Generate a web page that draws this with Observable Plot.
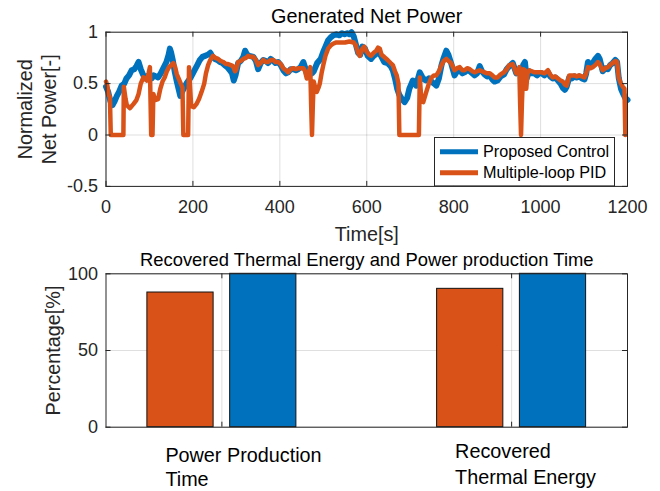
<!DOCTYPE html>
<html>
<head>
<meta charset="utf-8">
<script src="https://cdn.jsdelivr.net/npm/d3@7"></script>
<script src="https://cdn.jsdelivr.net/npm/@observablehq/plot@0.6"></script>
<style>
  body { margin: 0; background: #fff; }
  #wrap { position: relative; width: 660px; height: 491px; overflow: hidden; background: #fff;
          font-family: "Liberation Sans", Arial, Helvetica, sans-serif; }
  #wrap > svg { position: absolute; left: 0; }
</style>
</head>
<body>
<div id="wrap"></div>
<script>
// ---------- Data ----------
const timeProposed = [0,5,10,15,20,25,30,36,42,47,53,59,65,70,75,80,85,90,95,100,105,110,115,120,126,132,139,144,147,150,154,158,163,167,171,175,180,185,190,195,200,205,210,216,222,228,234,240,245,250,256,262,268,273,279,285,290,294,298,304,310,316,320,325,330,339,345,350,356,362,368,373,379,385,390,396,402,408,414,419,425,431,437,442,448,454,458,462,466,470,474,478,482,486,490,494,500,505,511,517,523,530,537,543,549,555,560,565,570,575,580,585,590,596,602,610,616,622,629,634,640,648,655,660,665,670,675,681,687,693,698,703,706,710,714,718,722,727,732,737,743,749,755,760,766,772,777,783,788,794,802,808,814,820,825,831,837,843,848,854,860,865,871,877,883,889,894,901,908,916,922,928,936,944,950,955,960,964,968,974,980,986,992,997,1003,1009,1017,1022,1028,1034,1040,1046,1051,1056,1060,1066,1072,1078,1083,1089,1095,1101,1105,1109,1115,1120,1126,1132,1136,1143,1149,1155,1160,1166,1172,1176,1180,1185,1190,1195,1200];
const powerProposed = [0.47,0.42,0.33,0.29,0.33,0.38,0.42,0.48,0.5,0.55,0.58,0.63,0.64,0.67,0.71,0.64,0.59,0.55,0.57,0.59,0.55,0.58,0.57,0.56,0.6,0.65,0.71,0.78,0.84,0.8,0.72,0.62,0.52,0.45,0.38,0.42,0.46,0.5,0.53,0.56,0.6,0.64,0.68,0.73,0.76,0.77,0.78,0.8,0.76,0.74,0.73,0.71,0.7,0.68,0.66,0.63,0.6,0.53,0.58,0.7,0.72,0.76,0.82,0.78,0.77,0.76,0.72,0.64,0.7,0.73,0.72,0.7,0.74,0.72,0.7,0.71,0.68,0.63,0.6,0.61,0.64,0.64,0.63,0.64,0.66,0.71,0.66,0.6,0.57,0.62,0.6,0.62,0.66,0.7,0.72,0.74,0.81,0.86,0.92,0.95,0.97,0.98,0.97,0.99,0.98,0.99,0.98,1.0,0.96,0.88,0.8,0.78,0.86,0.84,0.77,0.74,0.77,0.79,0.8,0.76,0.71,0.7,0.67,0.63,0.55,0.45,0.39,0.35,0.32,0.36,0.45,0.5,0.53,0.51,0.48,0.55,0.61,0.57,0.54,0.53,0.55,0.52,0.5,0.48,0.55,0.68,0.75,0.82,0.78,0.7,0.58,0.62,0.63,0.6,0.61,0.63,0.62,0.6,0.58,0.6,0.67,0.62,0.59,0.57,0.58,0.54,0.52,0.53,0.57,0.59,0.64,0.67,0.7,0.6,0.63,0.6,0.68,0.71,0.55,0.62,0.6,0.6,0.58,0.6,0.6,0.58,0.61,0.57,0.55,0.56,0.53,0.5,0.46,0.44,0.47,0.56,0.55,0.57,0.56,0.57,0.55,0.54,0.6,0.71,0.68,0.7,0.74,0.77,0.74,0.62,0.65,0.64,0.68,0.7,0.73,0.71,0.55,0.45,0.4,0.36,0.34];

const timePID = [0,3,6,9,11,40,41,45,48,55,63,70,75,80,86,90,94,98,101,104,107,109,113,120,125,130,135,140,145,150,155,159,163,168,172,176,178,189,191,193,196,202,208,214,220,226,230,235,240,246,252,258,264,270,276,281,287,292,297,300,304,310,316,322,327,333,339,345,350,356,362,368,373,379,385,390,396,402,408,414,419,425,431,437,442,448,454,458,462,466,470,472,474,476,478,482,485,489,492,496,500,505,511,517,523,530,540,550,560,570,575,580,584,590,594,600,606,610,616,622,626,630,634,640,648,655,660,665,669,673,675,720,722,726,730,737,743,749,755,760,766,772,777,783,788,794,802,808,814,820,825,831,837,843,848,854,860,865,871,877,883,889,894,901,908,916,922,928,936,944,948,951,953,955,957,960,964,967,970,974,980,986,992,997,1003,1009,1017,1022,1028,1034,1040,1046,1051,1056,1060,1066,1072,1078,1083,1089,1095,1101,1105,1109,1115,1120,1126,1132,1136,1143,1149,1155,1160,1166,1172,1176,1180,1185,1189,1193,1195];
const powerPID = [0.52,0.48,0.39,0.37,0,0,0.47,0.35,0.29,0.26,0.3,0.34,0.4,0.5,0.56,0.55,0.53,0.6,0.66,0,0,0.4,0.34,0.35,0.45,0.52,0.56,0.62,0.66,0.68,0.7,0.66,0.59,0.54,0.5,0.46,0,0,0.66,0.5,0.28,0.27,0.3,0.35,0.42,0.5,0.6,0.68,0.73,0.77,0.75,0.74,0.72,0.71,0.69,0.69,0.68,0.67,0.62,0.64,0.71,0.72,0.74,0.75,0.77,0.76,0.76,0.73,0.68,0.7,0.73,0.71,0.71,0.73,0.73,0.71,0.71,0.69,0.65,0.63,0.61,0.64,0.65,0.64,0.65,0.65,0.65,0.62,0.55,0.6,0.66,0.3,0,0.3,0.52,0.45,0.42,0.46,0.5,0.6,0.68,0.77,0.84,0.87,0.89,0.9,0.9,0.9,0.91,0.9,0.87,0.8,0.77,0.84,0.86,0.81,0.78,0.77,0.8,0.82,0.85,0.84,0.78,0.76,0.73,0.7,0.68,0.62,0.58,0.5,0,0,0.56,0.33,0.32,0.42,0.5,0.56,0.58,0.58,0.62,0.68,0.72,0.74,0.72,0.7,0.63,0.65,0.66,0.63,0.63,0.65,0.64,0.62,0.61,0.62,0.63,0.62,0.61,0.6,0.6,0.58,0.56,0.56,0.59,0.61,0.64,0.68,0.69,0.6,0.62,0.66,0.3,0,0.3,0.64,0.63,0.45,0.6,0.63,0.62,0.61,0.61,0.61,0.61,0.6,0.63,0.59,0.56,0.57,0.55,0.53,0.52,0.49,0.48,0.58,0.58,0.58,0.57,0.58,0.57,0.56,0.6,0.66,0.65,0.66,0.68,0.71,0.69,0.63,0.65,0.66,0.68,0.7,0.72,0.71,0.55,0.5,0.47,0.45,0];

const seriesNames = ["Proposed Control", "Multiple-loop PID"];
const seriesColors = ["#0072BD", "#D95319"];

const xTicks = [0, 200, 400, 600, 800, 1000, 1200];
const xTickLabels = ["0", "200", "400", "600", "800", "1000", "1200"];
const yTicks = [-0.5, 0, 0.5, 1];
const yTickLabels = ["-0.5", "0", "0.5", "1"];

const barCategories = ["Power Production\nTime", "Recovered\nThermal Energy"];
const barSeries = ["Multiple-loop PID", "Proposed Control"];
const pidPercent = [87.8, 90.2];
const proposedPercent = [100, 100];
const barYTicks = [0, 50, 100];
const barYTickLabels = ["0", "50", "100"];

// ---------- Tables ----------
const proposedRows = timeProposed.map((t, i) => ({t, v: powerProposed[i]}));
const pidRows = timePID.map((t, i) => ({t, v: powerPID[i]}));

// MATLAB grouped bar geometry (2 series)
const nb = barSeries.length;
const groupWidth = Math.min(0.8, nb / (nb + 1.5));
const barW = 0.8 * groupWidth / nb;
const barRows = [];
barCategories.forEach((c, i) => {
  [pidPercent[i], proposedPercent[i]].forEach((v, k) => {
    const off = (k + 0.5 - nb / 2) * groupWidth / nb;
    barRows.push({cat: c, pos: i + 1, series: barSeries[k], value: v, x1: i + 1 + off - barW / 2, x2: i + 1 + off + barW / 2});
  });
});
const catPos = barCategories.map((c, i) => ({cat: c, pos: i + 1}));

const FONT = '"Liberation Sans", Arial, Helvetica, sans-serif';
const AX = "#262626";
const GRID_OP = 0.15;
const wrapEl = document.getElementById("wrap");

// ---------- Top chart ----------
const PL = 105.5, PR = 627, FW = 660;
const t1 = {top: 31.7, bottom: 185.9, H: 245};
const pw = PR - PL, ph1 = t1.bottom - t1.top;
const TK = 5;

const chartTop = Plot.plot({
  width: FW, height: t1.H,
  marginLeft: PL, marginRight: FW - PR, marginTop: t1.top, marginBottom: t1.H - t1.bottom,
  style: {fontFamily: FONT, fontSize: "18px", color: AX, background: "transparent", overflow: "visible"},
  x: {domain: [0, 1200]},
  y: {domain: [-0.5, 1]},
  marks: [
    Plot.ruleX(xTicks, {x: d => d, stroke: AX, strokeOpacity: GRID_OP}),
    Plot.ruleY(yTicks, {y: d => d, stroke: AX, strokeOpacity: GRID_OP}),
    Plot.line(proposedRows, {x: "t", y: "v", stroke: seriesColors[0], strokeWidth: 6, strokeLinejoin: "round"}),
    Plot.line(pidRows, {x: "t", y: "v", stroke: seriesColors[1], strokeWidth: 4.5, strokeLinejoin: "round"}),
    Plot.frame({stroke: AX, strokeWidth: 1}),
    Plot.ruleX(xTicks, {x: d => d, insetTop: ph1 - TK, stroke: AX}),
    Plot.ruleX(xTicks, {x: d => d, insetBottom: ph1 - TK, stroke: AX}),
    Plot.ruleY(yTicks, {y: d => d, insetRight: pw - TK, stroke: AX}),
    Plot.ruleY(yTicks, {y: d => d, insetLeft: pw - TK, stroke: AX}),
    Plot.axisX({ticks: xTicks, tickSize: 0, tickPadding: 14, label: null, fontSize: 18, fill: AX,
      tickFormat: d => xTickLabels[xTicks.indexOf(d)]}),
    Plot.axisY({ticks: yTicks, tickSize: 0, tickPadding: 8, label: null, fontSize: 18, fill: AX,
      tickFormat: d => yTickLabels[yTicks.indexOf(d)]}),
    Plot.text(["Generated Net Power"], {frameAnchor: "top", dy: 16.5 - t1.top, lineAnchor: "middle", fontSize: 19.8, fill: "#000"}),
    Plot.text(["Time[s]"], {frameAnchor: "bottom", dy: 234 - t1.bottom, lineAnchor: "middle", fontSize: 19.8, fill: AX}),
    Plot.text(["Normalized\nNet Power[-]"], {frameAnchor: "left", dx: 35.5 - PL, rotate: -90, textAnchor: "middle", lineAnchor: "middle", lineHeight: 1.25, fontSize: 19.8, fill: AX})
  ]
});
chartTop.style.top = "0px";
wrapEl.appendChild(chartTop);

// Legend overlay (top chart, south-east)
const lg = d3.select(wrapEl).append("svg")
  .attr("width", FW).attr("height", t1.H)
  .style("top", "0px").style("pointer-events", "none");
const lgBox = {x: 434.5, y: 137.5, w: 180, h: 48.4};
lg.append("rect").attr("x", lgBox.x).attr("y", lgBox.y).attr("width", lgBox.w).attr("height", lgBox.h)
  .attr("fill", "#fff").attr("stroke", AX).attr("stroke-width", 1);
seriesNames.forEach((name, i) => {
  const cy = 151.7 + i * 21;
  lg.append("line").attr("x1", 440).attr("x2", 478).attr("y1", cy).attr("y2", cy)
    .attr("stroke", seriesColors[i]).attr("stroke-width", 5);
  lg.append("text").attr("x", 483).attr("y", cy).attr("dy", "0.35em")
    .attr("font-family", FONT).attr("font-size", 16.2).attr("fill", "#000").text(name);
});

// ---------- Bottom chart ----------
const t2 = {offset: 245, top: 273.3 - 245, bottom: 426.7 - 245, H: 246};
const ph2 = t2.bottom - t2.top;
const barCatTicks = catPos.map(d => d.pos);

const chartBottom = Plot.plot({
  width: FW, height: t2.H,
  marginLeft: PL, marginRight: FW - PR, marginTop: t2.top, marginBottom: t2.H - t2.bottom,
  style: {fontFamily: FONT, fontSize: "18px", color: AX, background: "transparent", overflow: "visible"},
  x: {domain: [0.6, 2.4], axis: null},
  y: {domain: [0, 100]},
  color: {domain: barSeries, range: [seriesColors[1], seriesColors[0]]},
  marks: [
    Plot.ruleX(barCatTicks, {x: d => d, stroke: AX, strokeOpacity: GRID_OP}),
    Plot.ruleY(barYTicks, {y: d => d, stroke: AX, strokeOpacity: GRID_OP}),
    Plot.rectY(barRows, {x1: "x1", x2: "x2", y: "value", fill: "series", stroke: "#111", strokeWidth: 1}),
    Plot.frame({stroke: AX, strokeWidth: 1}),
    Plot.ruleX(barCatTicks, {x: d => d, insetTop: ph2 - TK, stroke: AX}),
    Plot.ruleX(barCatTicks, {x: d => d, insetBottom: ph2 - TK, stroke: AX}),
    Plot.ruleY(barYTicks, {y: d => d, insetRight: pw - TK, stroke: AX}),
    Plot.ruleY(barYTicks, {y: d => d, insetLeft: pw - TK, stroke: AX}),
    Plot.axisY({ticks: barYTicks, tickSize: 0, tickPadding: 8, label: null, fontSize: 18, fill: AX,
      tickFormat: d => barYTickLabels[barYTicks.indexOf(d)]}),
    Plot.text(["Recovered Thermal Energy and Power production Time"], {frameAnchor: "top", dy: (259.5 - 245) - t2.top, lineAnchor: "middle", fontSize: 18.4, fill: "#000"}),
    Plot.text(["Percentage[%]"], {frameAnchor: "left", dx: 53 - PL, rotate: -90, textAnchor: "middle", lineAnchor: "middle", fontSize: 19.8, fill: AX}),
    Plot.text([catPos[0]], {x: "pos", text: "cat", frameAnchor: "bottom", textAnchor: "start", lineAnchor: "top", dx: -56.5, dy: 445.5 - 426.7, lineHeight: 1.17, fontSize: 19.8, fill: "#000"}),
    Plot.text([catPos[1]], {x: "pos", text: "cat", frameAnchor: "bottom", textAnchor: "start", lineAnchor: "top", dx: -56.5, dy: 439.5 - 426.7, lineHeight: 1.3, fontSize: 19.8, fill: "#000"})
  ]
});
chartBottom.style.top = t2.offset + "px";
wrapEl.appendChild(chartBottom);
</script>
</body>
</html>
